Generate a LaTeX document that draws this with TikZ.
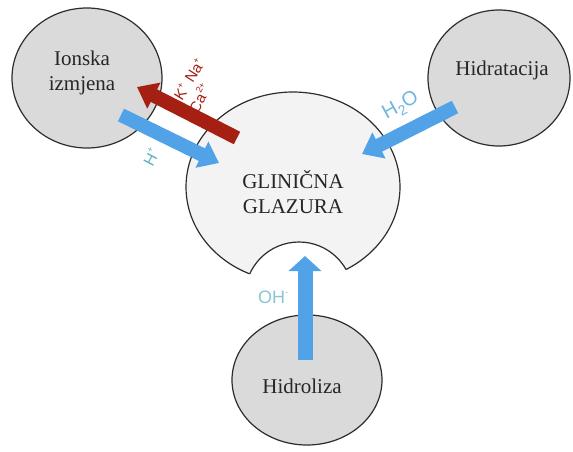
\documentclass[tikz,border=0pt]{standalone}
\usepackage{fontspec}
\setmainfont{Liberation Serif}
\newfontfamily\lblfont{Liberation Sans}
\usetikzlibrary{arrows.meta}
\definecolor{circfill}{RGB}{218,218,218}
\definecolor{mainfill}{RGB}{243,243,243}
\definecolor{outline}{RGB}{45,45,45}
\definecolor{arrblue}{RGB}{82,162,232}
\definecolor{arrred}{RGB}{165,32,18}
\definecolor{lblteal}{RGB}{95,180,185}
\definecolor{lblblue}{RGB}{110,182,222}
\definecolor{lbloh}{RGB}{135,198,212}
\newcommand{\sups}[1]{\raisebox{0.45em}{\fontsize{9}{9}\selectfont #1}}
\begin{document}
\begin{tikzpicture}[x=1pt,y=-1pt,
  outl/.style={draw=outline,line width=1.2pt},
  bigtxt/.style={font=\fontsize{21}{25}\selectfont,align=center,text=black!85},
  blockarrow/.style={line width=14pt,line cap=butt,-{Triangle[width=28pt,length=19pt]}},
  smalllbl/.style={font=\lblfont\fontsize{15}{17}\selectfont,inner sep=0pt}]
\useasboundingbox (0,0) rectangle (573,452);
% main glaze shape
\fill[mainfill,outl] (293,187) ellipse [x radius=107pt, y radius=95pt];
\fill[white] (299,296) circle [radius=54pt];
\begin{scope}
  \clip (293,187) ellipse [x radius=107pt, y radius=95pt];
  \draw[outl] (299,296) circle [radius=54pt];
\end{scope}
\node[bigtxt] (glaze) at (293,192) {GLINIČNA\\GLAZURA};
% satellite circles
\fill[circfill,outl] (87,78) ellipse [x radius=75pt, y radius=70pt];
\node[bigtxt] (ion) at (82,73) {Ionska\\izmjena};
\fill[circfill,outl] (499,78) ellipse [x radius=71pt, y radius=68pt];
\node[bigtxt] (hyd) at (502,70) {Hidratacija};
\fill[circfill,outl] (307,380) ellipse [x radius=75pt, y radius=65pt];
\node[bigtxt] (hdr) at (302,386) {Hidroliza};
% arrow end points
\coordinate (hT) at (121,115); \coordinate (hH) at (219,163);
\coordinate (rT) at (237,138); \coordinate (rH) at (137,87);
\coordinate (wT) at (455,107); \coordinate (wH) at (362,154);
\coordinate (oT) at (305,360); \coordinate (oH) at (305,256);
\draw[blockarrow,arrblue] (hT) -- (hH);
\draw[blockarrow,arrred] (rT) -- (rH);
\draw[blockarrow,arrblue] (wT) -- (wH);
\draw[blockarrow,arrblue,-{Triangle[width=32pt,length=15pt]},line width=15pt] (oT) -- (oH);
% labels
\node[smalllbl,font=\lblfont\fontsize{16}{18}\selectfont,text=lblteal,rotate=62] (lh) at (151,157) {H\sups{+}};
\node[smalllbl,text=arrred,rotate=58] (lkna) at (189,79) {K\sups{+}\,\,Na\sups{+}};
\node[smalllbl,text=arrred,rotate=62] (lca) at (199,98) {Ca\sups{2+}};
\node[font=\lblfont\fontsize{20}{22}\selectfont,inner sep=0pt,text=lblblue,rotate=29] (lw) at (401,106) {H\raisebox{-0.25em}{\fontsize{14}{14}\selectfont 2}O};
\node[font=\lblfont\fontsize{18}{20}\selectfont,inner sep=0pt,text=lbloh] (loh) at (273,297) {OH\sups{-}};
\end{tikzpicture}
\end{document}
